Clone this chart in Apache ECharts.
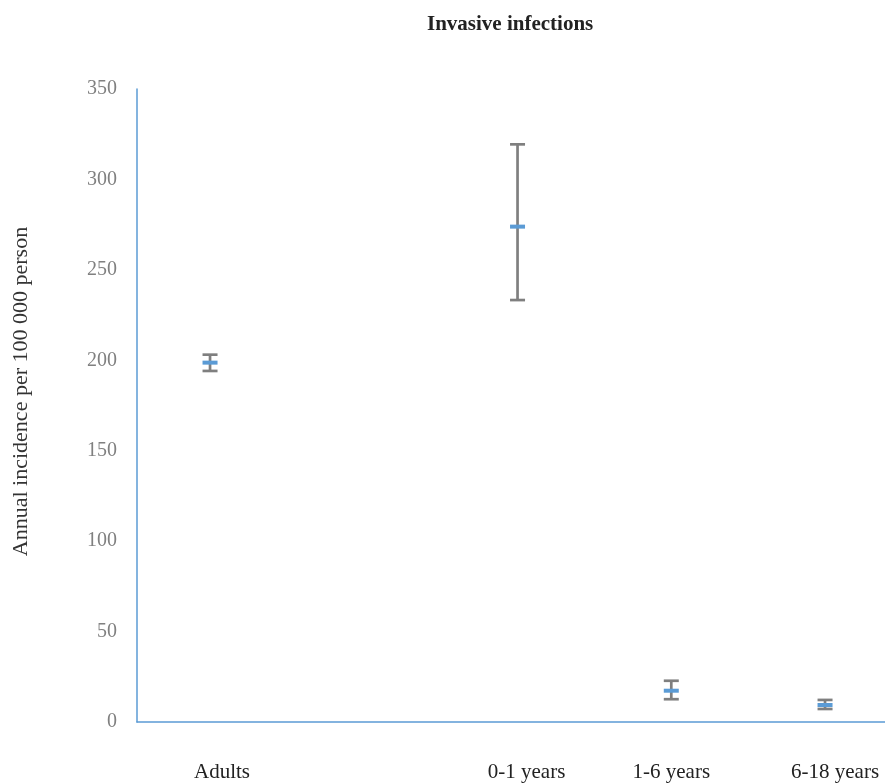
<!DOCTYPE html>
<html>
<head>
<meta charset="utf-8">
<script src="https://cdn.jsdelivr.net/npm/echarts@6/dist/echarts.min.js"></script>
<style>html,body{margin:0;padding:0;background:#fff;}#c{width:885px;height:784px;}</style>
</head>
<body>
<div id="c"></div>
<script>
const categories = ['Adults', '', '0-1 years', '1-6 years', '6-18 years'];
const meanValues = [198.7, null, 273.9, 17.3, 9.4];
const lowerValues = [194.1, null, 233.3, 12.6, 7.2];
const upperValues = [203.1, null, 319.4, 22.8, 12.2];
const yTicks = [0, 50, 100, 150, 200, 250, 300, 350];

const data = [];
const labelIdx = [];
for (let i = 0; i < categories.length; i++) {
  if (meanValues[i] == null) continue;
  data.push([i, meanValues[i], lowerValues[i], upperValues[i]]);
  labelIdx.push(i);
}

// label style keys (visual shift of labels only)
const labelStyleKeys = ['s24', '', 's18', 's0', 's20'];
const baseLbl = {fontFamily: 'Liberation Serif', fontSize: 21, color: '#222'};
const rich = {
  s24: Object.assign({padding: [0, 0, 0, 24]}, baseLbl),
  s18: Object.assign({padding: [0, 0, 0, 18]}, baseLbl),
  s20: Object.assign({padding: [0, 0, 0, 20]}, baseLbl),
  s0: Object.assign({}, baseLbl)
};

const chart = echarts.init(document.getElementById('c'), null, {renderer: 'canvas'});
chart.setOption({
  animation: false,
  backgroundColor: '#fff',
  title: {
    text: 'Invasive infections',
    left: 422, top: 9,
    textStyle: {fontFamily: 'Liberation Serif', fontWeight: 'bold', fontSize: 21, color: '#222'}
  },
  grid: {left: 137, top: 89, right: 0, bottom: 62, containLabel: false},
  xAxis: {
    type: 'value',
    min: -0.475, max: 4.39,
    axisLine: {show: true, onZero: false, lineStyle: {color: '#5B9BD5', width: 1.5}},
    axisTick: {show: false},
    splitLine: {show: false},
    axisLabel: {
      customValues: labelIdx,
      showMinLabel: true, showMaxLabel: true,
      margin: 40, fontFamily: 'Liberation Serif', fontSize: 21, color: '#222',
      rich: rich,
      formatter: function (v) {
        const i = Math.round(v);
        const k = labelStyleKeys[i];
        return k ? '{' + k + '|' + categories[i] + '}' : (categories[i] || '');
      }
    }
  },
  yAxis: {
    type: 'value',
    min: 0, max: 350, interval: 50,
    name: 'Annual incidence per 100 000 person',
    nameLocation: 'middle',
    nameGap: 105,
    nameTextStyle: {fontFamily: 'Liberation Serif', fontSize: 22, color: '#333', padding: [0, 0, 0, 28]},
    axisLine: {show: true, onZero: false, lineStyle: {color: '#5B9BD5', width: 1.5}},
    axisTick: {show: false},
    splitLine: {show: false},
    axisLabel: {
      margin: 20, fontFamily: 'Liberation Serif', fontSize: 20, color: '#808080',
      formatter: function (v) { return yTicks.indexOf(v) >= 0 ? String(v) : ''; }
    }
  },
  series: [{
    type: 'custom',
    data: data,
    encode: {x: 0, y: [1, 2, 3]},
    renderItem: function (params, api) {
      const x = api.value(0);
      const m = api.coord([x, api.value(1)]);
      const lo = api.coord([x, api.value(2)]);
      const hi = api.coord([x, api.value(3)]);
      const hw = 7.5;
      const gray = {stroke: '#7F7F7F', lineWidth: 2.7};
      return {
        type: 'group',
        children: [
          {type: 'line', shape: {x1: m[0], y1: hi[1], x2: m[0], y2: lo[1]}, style: gray},
          {type: 'line', shape: {x1: m[0] - hw, y1: hi[1], x2: m[0] + hw, y2: hi[1]}, style: gray},
          {type: 'line', shape: {x1: m[0] - hw, y1: lo[1], x2: m[0] + hw, y2: lo[1]}, style: gray},
          {type: 'line', shape: {x1: m[0] - hw, y1: m[1], x2: m[0] + hw, y2: m[1]}, style: {stroke: '#5B9BD5', lineWidth: 4}}
        ]
      };
    }
  }]
});
</script>
</body>
</html>
